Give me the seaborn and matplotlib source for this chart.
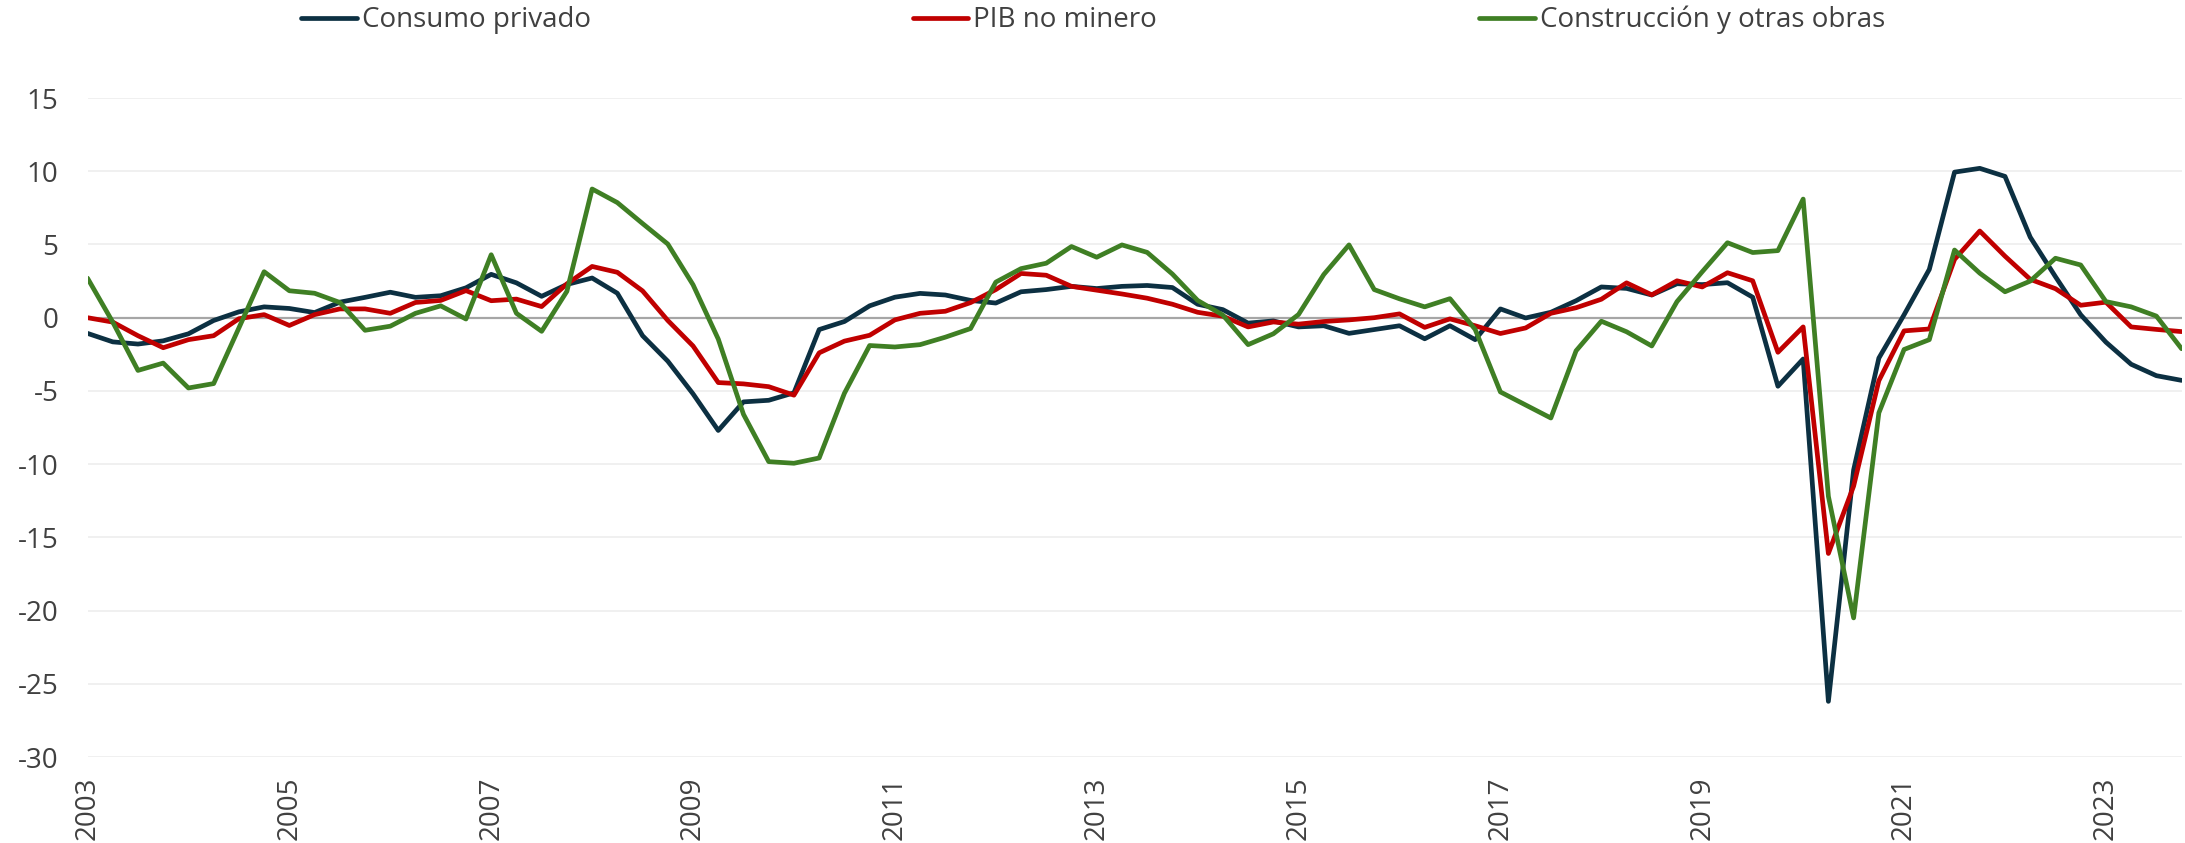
# ============================================================
# Consumo privado, PIB no minero y Construcción (var. % a/a)
# Trimestral 2003 - 2023
# ============================================================
import pandas as pd
import numpy as np
import matplotlib
matplotlib.use('Agg')
import matplotlib.pyplot as plt
import seaborn as sns

sns.set_theme(style="white")
plt.rcParams['font.family'] = ['Open Sans', 'DejaVu Sans']
plt.rcParams['axes.unicode_minus'] = False

# ============================================================
# Data (quarterly 2003Q1 - 2023Q4)
# ============================================================
years = list(range(2003, 2024))

consumo = [
    -1.07, -1.65, -1.8, -1.58, -1.1, -0.19, 0.4, 0.74, 0.63, 0.35,
    1.06, 1.39, 1.74, 1.39, 1.5, 2.04, 2.96, 2.38, 1.46, 2.27,
    2.71, 1.67, -1.23, -2.97, -5.2, -7.7, -5.75, -5.64, -5.13, -0.81,
    -0.26, 0.81, 1.4, 1.66, 1.55, 1.18, 1.0, 1.77, 1.92, 2.14,
    1.99, 2.14, 2.2, 2.06, 0.92, 0.55, -0.37, -0.22, -0.63, -0.55,
    -1.07, -0.81, -0.55, -1.44, -0.55, -1.5, 0.6, -0.02, 0.37, 1.16,
    2.1, 2.0, 1.55, 2.32, 2.26, 2.39, 1.4, -4.68, -2.82, -26.2,
    -10.4, -2.76, 0.2, 3.3, 9.94, 10.2, 9.65, 5.5, 2.8, 0.2,
    -1.67, -3.18, -3.96, -4.28,
]

pib_no_minero = [
    0.0, -0.3, -1.23, -2.05, -1.5, -1.23, -0.07, 0.21, -0.53, 0.21,
    0.6, 0.6, 0.3, 1.04, 1.18, 1.85, 1.16, 1.27, 0.76, 2.31,
    3.5, 3.1, 1.83, -0.19, -1.93, -4.43, -4.52, -4.71, -5.29, -2.4,
    -1.6, -1.2, -0.15, 0.3, 0.44, 1.03, 1.92, 3.02, 2.9, 2.14,
    1.88, 1.62, 1.33, 0.92, 0.37, 0.1, -0.63, -0.29, -0.44, -0.26,
    -0.15, 0.0, 0.26, -0.66, -0.08, -0.55, -1.08, -0.7, 0.3, 0.68,
    1.26, 2.38, 1.56, 2.52, 2.1, 3.07, 2.52, -2.36, -0.63, -16.1,
    -11.5, -4.3, -0.9, -0.77, 3.98, 5.92, 4.2, 2.62, 1.98, 0.85,
    1.06, -0.63, -0.8, -0.95,
]

construccion = [
    2.7, -0.3, -3.6, -3.1, -4.8, -4.5, -0.7, 3.14, 1.84, 1.67,
    1.04, -0.86, -0.58, 0.3, 0.81, -0.09, 4.3, 0.3, -0.93, 1.8,
    8.79, 7.86, 6.43, 5.03, 2.25, -1.46, -6.6, -9.83, -9.94, -9.58,
    -5.16, -1.9, -2.0, -1.84, -1.33, -0.74, 2.43, 3.35, 3.72, 4.86,
    4.13, 4.97, 4.46, 2.98, 1.18, 0.18, -1.84, -1.1, 0.22, 2.95,
    4.97, 1.92, 1.29, 0.74, 1.3, -0.8, -5.07, -5.96, -6.85, -2.26,
    -0.24, -0.96, -1.93, 1.1, 3.14, 5.12, 4.45, 4.58, 8.1, -12.2,
    -20.5, -6.5, -2.17, -1.5, 4.62, 3.04, 1.77, 2.5, 4.06, 3.6,
    1.1, 0.74, 0.11, -2.12,
]

series_names = ['Consumo privado', 'PIB no minero', 'Construcción y otras obras']
colors = {'Consumo privado': '#0c3042',
          'PIB no minero': '#c00000',
          'Construcción y otras obras': '#3f7f24'}

n = len(consumo)
df = pd.DataFrame({
    't': list(range(n)) * 3,
    'valor': consumo + pib_no_minero + construccion,
    'serie': [series_names[0]] * n + [series_names[1]] * n + [series_names[2]] * n,
})

# ============================================================
# Chart
# ============================================================
fig = plt.figure(figsize=(21.85, 8.43), dpi=100)
ax = fig.add_axes([0.04005, 0.102, 0.9584, 0.7817])

ax.axhline(0, color='#a6a6a6', lw=1.6, zorder=1)
sns.lineplot(data=df, x='t', y='valor', hue='serie', hue_order=series_names,
             palette=colors, linewidth=3.4, ax=ax, zorder=3)

ax.set_xlim(0, n - 1)
ax.set_ylim(-30, 15)
ax.set_yticks(np.arange(-30, 16, 5))
ax.set_xticks(np.arange(0, n, 8))
ax.set_xticklabels([str(y) for y in years[::2]], rotation=90, va='top')
ax.set_xlabel('')
ax.set_ylabel('')

ax.grid(axis='y', color='#eeeeee', lw=1.2, zorder=0)
ax.grid(axis='x', visible=False)
for s in ax.spines.values():
    s.set_visible(False)

ax.tick_params(axis='y', length=0, pad=21, labelsize=20, labelcolor='#404040')
ax.tick_params(axis='x', length=0, pad=14, labelsize=20, labelcolor='#404040')

handles, labels = ax.get_legend_handles_labels()
ax.get_legend().remove()
fig.legend(handles, labels, loc='center', bbox_to_anchor=(0.5003, 0.976),
           ncol=3, frameon=False, fontsize=20, labelcolor='#404040',
           handlelength=2.0, handletextpad=0.18, columnspacing=11.6)

plt.savefig('out.png', dpi=100)
